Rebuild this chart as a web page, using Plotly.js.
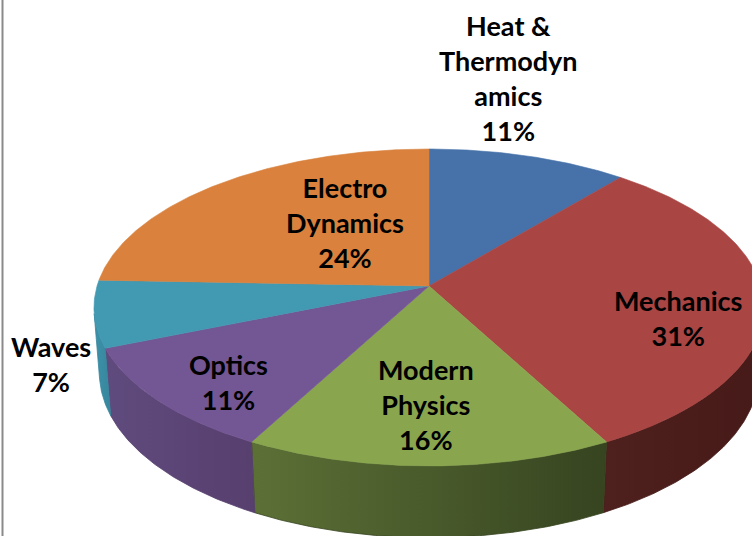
<!DOCTYPE html>
<html><head><meta charset="utf-8">
<script src="https://cdn.plot.ly/plotly-3.0.1.min.js"></script>
<style>html,body{margin:0;padding:0;background:#fff;overflow:hidden}#chart{width:752px;height:536px}</style>
</head><body><div id="chart"></div>
<script>
// ---- data ----
const categories = ["Heat & Thermodynamics", "Mechanics", "Modern Physics", "Optics", "Waves", "Electro Dynamics"];
const labelText = ["Heat &<br>Thermodyn<br>amics", "Mechanics", "Modern<br>Physics", "Optics", "Waves", "Electro<br>Dynamics"];
const values = [11.0, 31.2, 15.6, 11.0, 6.8, 24.4];

// ---- styles ----
const topColors = ["#4672a9", "#a94543", "#89a64f", "#735694", "#4199b2", "#d9813d"];
const wallLight = ["#3d5f8c", "#4e201e", "#5c7036", "#604b7e", "#3c91a9", "#b46a31"];
const wallDark  = ["#30496c", "#461a18", "#364420", "#573f6e", "#37879d", "#9c5b2a"];
const labelPos = [[508, 78], [678, 318], [426, 404], [228, 382], [51, 364], [345, 222]];

// ---- 3D perspective projection of the pie (screen pixels) ----
const V = {cx: 429, cy: 286, F: 2161, D: 6.51, phi: 27.95 * Math.PI / 180, h: 0.225};
const S = Math.sin(V.phi), C = Math.cos(V.phi);
function proj(theta, r, Y) {
  const X = r * Math.sin(theta), Z = r * Math.cos(theta);
  const depth = -Y * S + Z * C + V.D;
  const yc = Y * C + Z * S;
  return [V.cx + V.F * X / depth, V.cy - V.F * yc / depth];
}
function arc(t0, t1, Y) {
  const pts = [];
  const n = Math.max(2, Math.ceil(Math.abs(t1 - t0) / (Math.PI / 360)));
  for (let k = 0; k <= n; k++) pts.push(proj(t0 + (t1 - t0) * k / n, 1, Y));
  return pts;
}

const total = values.reduce((a, b) => a + b, 0);
const starts = [], ends = [];
let acc = 0;
values.forEach(v => { starts.push(acc / total * 2 * Math.PI); acc += v; ends.push(acc / total * 2 * Math.PI); });

// visible range of the outer wall
const lim = Math.acos(-1 / (V.D * C));
const visA = lim, visB = 2 * Math.PI - lim;

const traces = [];
// walls
values.forEach((v, i) => {
  const a = Math.max(starts[i], visA), b = Math.min(ends[i], visB);
  if (b <= a) return;
  const top = arc(a, b, 0), bot = arc(a, b, -V.h).reverse();
  const pts = top.concat(bot); pts.push(top[0]);
  traces.push({
    type: "scatter", mode: "lines",
    x: pts.map(p => p[0]), y: pts.map(p => p[1]),
    fill: "toself", line: {width: 0.8, color: wallDark[i]},
    fillgradient: {type: "horizontal", colorscale: [[0, wallLight[i]], [1, wallDark[i]]]},
    hoverinfo: "skip", showlegend: false
  });
});
// top faces
values.forEach((v, i) => {
  const c = proj(0, 0, 0);
  const pts = [c].concat(arc(starts[i], ends[i], 0)); pts.push(c);
  traces.push({
    type: "scatter", mode: "lines",
    x: pts.map(p => p[0]), y: pts.map(p => p[1]),
    fill: "toself", fillcolor: topColors[i], line: {width: 0.6, color: topColors[i]},
    name: categories[i], hoverinfo: "text", text: categories[i], showlegend: false
  });
});

const annotations = values.map((v, i) => ({
  x: labelPos[i][0], y: labelPos[i][1], xref: "x", yref: "y",
  text: labelText[i] + "<br>" + Math.round(v / total * 100) + "%",
  showarrow: false, xanchor: "center", yanchor: "middle", align: "center",
  font: {family: "Lato, 'Open Sans', sans-serif", size: 27, color: "#000000", weight: 700}
}));

const layout = {
  width: 752, height: 536,
  margin: {l: 0, r: 0, t: 0, b: 0},
  paper_bgcolor: "#ffffff", plot_bgcolor: "#ffffff",
  xaxis: {range: [0, 752], visible: false, fixedrange: true},
  yaxis: {range: [536, 0], visible: false, fixedrange: true},
  showlegend: false,
  annotations: annotations,
  shapes: [{type: "line", xref: "x", yref: "y", x0: 2.5, x1: 2.5, y0: 0, y1: 536,
            line: {color: "#8a8a8a", width: 2}}]
};
Plotly.newPlot("chart", traces, layout, {displayModeBar: false, staticPlot: true});
</script>
</body></html>
